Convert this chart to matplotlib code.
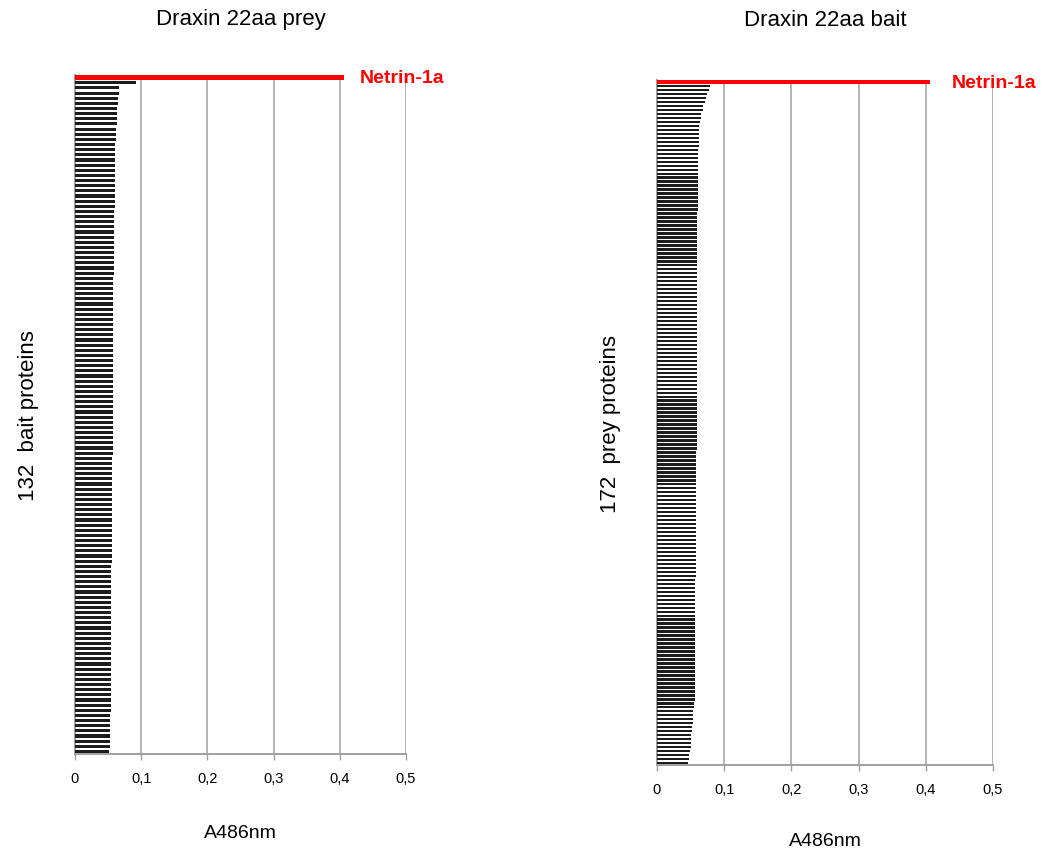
import matplotlib
matplotlib.use("Agg")
import matplotlib.pyplot as plt
import numpy as np

plt.rcParams['font.family'] = ['Liberation Sans', 'DejaVu Sans']

# A486nm readings, top bar first (the first bar is Netrin-1a)
prey_values = [
    0.407, 0.092, 0.066, 0.067, 0.065, 0.065, 0.064, 0.064, 0.063, 0.063,
    0.062, 0.062, 0.062, 0.061, 0.061, 0.061, 0.061, 0.061, 0.060, 0.060,
    0.060, 0.060, 0.060, 0.060, 0.060, 0.060, 0.059, 0.059, 0.059, 0.059,
    0.059, 0.059, 0.059, 0.059, 0.059, 0.059, 0.059, 0.059, 0.059, 0.058,
    0.058, 0.058, 0.058, 0.058, 0.058, 0.058, 0.058, 0.058, 0.058, 0.058,
    0.058, 0.058, 0.058, 0.058, 0.058, 0.058, 0.057, 0.057, 0.057, 0.057,
    0.057, 0.057, 0.057, 0.057, 0.057, 0.057, 0.057, 0.057, 0.057, 0.057,
    0.057, 0.057, 0.057, 0.057, 0.056, 0.056, 0.056, 0.056, 0.056, 0.056,
    0.056, 0.056, 0.056, 0.056, 0.056, 0.056, 0.056, 0.056, 0.056, 0.056,
    0.056, 0.056, 0.056, 0.056, 0.056, 0.055, 0.055, 0.055, 0.055, 0.055,
    0.055, 0.055, 0.055, 0.055, 0.055, 0.055, 0.055, 0.055, 0.055, 0.055,
    0.055, 0.055, 0.055, 0.054, 0.054, 0.054, 0.054, 0.054, 0.054, 0.054,
    0.054, 0.054, 0.054, 0.054, 0.053, 0.053, 0.053, 0.053, 0.053, 0.053,
    0.053, 0.052,
]

bait_values = [
    0.406, 0.079, 0.077, 0.075, 0.073, 0.071, 0.069, 0.068, 0.066, 0.065,
    0.064, 0.063, 0.063, 0.062, 0.062, 0.062, 0.062, 0.061, 0.061, 0.061,
    0.061, 0.061, 0.061, 0.061, 0.061, 0.061, 0.061, 0.061, 0.061, 0.061,
    0.061, 0.061, 0.061, 0.060, 0.060, 0.060, 0.060, 0.060, 0.060, 0.060,
    0.060, 0.060, 0.060, 0.060, 0.060, 0.060, 0.060, 0.060, 0.060, 0.060,
    0.060, 0.060, 0.060, 0.060, 0.060, 0.060, 0.060, 0.060, 0.060, 0.060,
    0.060, 0.060, 0.059, 0.059, 0.059, 0.059, 0.059, 0.059, 0.059, 0.059,
    0.059, 0.059, 0.059, 0.059, 0.059, 0.059, 0.059, 0.059, 0.059, 0.059,
    0.059, 0.059, 0.059, 0.059, 0.059, 0.059, 0.059, 0.059, 0.059, 0.059,
    0.059, 0.059, 0.059, 0.058, 0.058, 0.058, 0.058, 0.058, 0.058, 0.058,
    0.058, 0.058, 0.058, 0.058, 0.058, 0.058, 0.058, 0.058, 0.058, 0.058,
    0.058, 0.058, 0.058, 0.058, 0.058, 0.058, 0.058, 0.058, 0.058, 0.058,
    0.058, 0.058, 0.058, 0.058, 0.058, 0.057, 0.057, 0.057, 0.057, 0.057,
    0.057, 0.057, 0.057, 0.057, 0.057, 0.057, 0.057, 0.057, 0.057, 0.057,
    0.057, 0.057, 0.057, 0.057, 0.057, 0.057, 0.057, 0.057, 0.057, 0.057,
    0.057, 0.057, 0.057, 0.056, 0.056, 0.056, 0.055, 0.055, 0.054, 0.054,
    0.053, 0.053, 0.052, 0.052, 0.051, 0.051, 0.050, 0.050, 0.049, 0.048,
    0.047, 0.046,
]

x_ticks = [0, 0.1, 0.2, 0.3, 0.4, 0.5]
x_tick_labels = ['0', '0,1', '0,2', '0,3', '0,4', '0,5']

fig = plt.figure(figsize=(10.62, 8.54), dpi=100)


def drawPanel(rect, values, title, ylabel, label_offset, xlabel_pad):
    ax = fig.add_axes(rect)
    n = len(values)
    pos = np.arange(n)
    ax.barh(pos[1:], values[1:], height=0.6, color='#1c1c1c', zorder=3)
    ax.barh(pos[:1], values[:1], height=1.0, color='#ff0000', zorder=4)
    ax.annotate('Netrin-1a', xy=(values[0], 0), xytext=(label_offset, 0),
                textcoords='offset points', color='#ff0000', fontsize=14,
                fontweight='bold', va='center', ha='left', annotation_clip=False)

    ax.set_ylim(n - 0.5, -0.5)
    ax.set_xlim(0, 0.5)
    ax.set_yticks([])
    ax.set_xticks(x_ticks)
    ax.set_xticklabels(x_tick_labels, fontsize=10.5)
    ax.tick_params(axis='x', length=4, width=1, color='#a0a0a0', pad=8)
    ax.grid(axis='x', color='#b4b4b4', linewidth=1.4, zorder=0)
    for side in ['top', 'right']:
        ax.spines[side].set_visible(False)
    for side in ['left', 'bottom']:
        ax.spines[side].set_color('#a0a0a0')
        ax.spines[side].set_linewidth(1.4)

    ax.set_xlabel('A486nm', fontsize=14, labelpad=xlabel_pad)
    ax.set_ylabel(ylabel, fontsize=16, labelpad=26)
    cx = rect[0] + rect[2] / 2
    fig.text(cx, 1 - 20 / 854, title, fontsize=16, ha='center', va='center')
    return ax


drawPanel([0.0706, 0.1159, 0.3117, 0.795], prey_values,
          'Draxin 22aa prey', '132  bait proteins', 11, 28)
drawPanel([0.6186, 0.103, 0.3164, 0.802], bait_values,
          'Draxin 22aa bait', '172  prey proteins', 16, 26)

fig.savefig('out.png', dpi=100)
